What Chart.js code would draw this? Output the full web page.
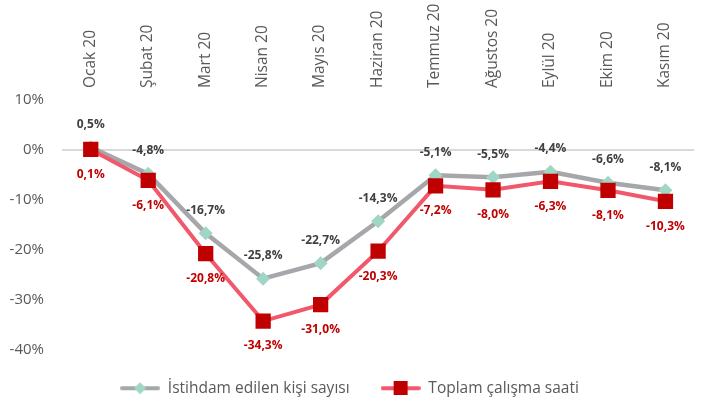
<!DOCTYPE html>
<html>
<head>
<meta charset="utf-8">
<script src="https://cdn.jsdelivr.net/npm/chart.js@4"></script>
<style>
  html, body { margin: 0; padding: 0; background: #fff; }
  #wrap { width: 705px; height: 401px; }
</style>
</head>
<body>
<div id="wrap"><canvas id="c"></canvas></div>
<script>
const months = ['Ocak 20', 'Şubat 20', 'Mart 20', 'Nisan 20', 'Mayıs 20', 'Haziran 20',
  'Temmuz 20', 'Ağustos 20', 'Eylül 20', 'Ekim 20', 'Kasım 20']
const istihdam = [0.5, -4.8, -16.7, -25.8, -22.7, -14.3, -5.1, -5.5, -4.4, -6.6, -8.1]
const calismaSaati = [0.1, -6.1, -20.8, -34.3, -31.0, -20.3, -7.2, -8.0, -6.3, -8.1, -10.3]
const yTicks = [10, 0, -10, -20, -30, -40]

const FONT = '"Open Sans", "Noto Sans", sans-serif'

// legend icon: short line with the marker in the middle
function legendIcon(lineColor, draw) {
  const c = document.createElement('canvas')
  c.width = 40
  c.height = 14
  const g = c.getContext('2d')
  g.strokeStyle = lineColor
  g.lineWidth = 4
  g.lineCap = 'round'
  g.beginPath()
  g.moveTo(2, 7)
  g.lineTo(38, 7)
  g.stroke()
  draw(g)
  return c
}

const grayIcon = legendIcon('#A6A7AA', g => {
  g.fillStyle = '#9FD6C5'
  g.beginPath()
  g.moveTo(20, 1); g.lineTo(26, 7); g.lineTo(20, 13); g.lineTo(14, 7)
  g.closePath()
  g.fill()
})
const redIcon = legendIcon('#F2586C', g => {
  g.fillStyle = '#C00000'
  g.fillRect(13, 0, 14, 14)
})

// value labels above (gray) / below (red) the points
const valueLabels = {
  id: 'valueLabels',
  afterDatasetsDraw(chart) {
    const ctx = chart.ctx
    ctx.save()
    ctx.font = 'bold 12px ' + FONT
    ctx.textAlign = 'center'
    ctx.textBaseline = 'middle'
    chart.data.datasets.forEach((ds, i) => {
      const meta = chart.getDatasetMeta(i)
      meta.data.forEach((pt, j) => {
        const txt = ds.data[j].toFixed(1).replace('.', ',') + '%'
        ctx.fillStyle = ds.labelColor
        ctx.fillText(txt, pt.x, pt.y + ds.labelOffset)
      })
    })
    ctx.restore()
  }
}

// legend sits a bit lower than Chart.js puts it
const legendNudge = {
  id: 'legendNudge',
  beforeLayout(chart) {
    const lg = chart.legend
    if (!lg || lg._nudged) return
    const fit = lg.fit
    lg.fit = function () { fit.call(this); this.height -= 5 }
    lg._nudged = true
  }
}

new Chart(document.getElementById('c'), {
  type: 'line',
  data: {
    labels: months,
    datasets: [
      {
        label: 'İstihdam edilen kişi sayısı',
        data: istihdam,
        order: 1,
        borderColor: '#A6A7AA',
        borderWidth: 4.5,
        pointStyle: 'rectRot',
        pointRadius: 7,
        pointHoverRadius: 7,
        pointBackgroundColor: '#9FD6C5',
        pointBorderWidth: 0,
        tension: 0,
        labelColor: '#404040',
        labelOffset: -23,
        legendIcon: grayIcon
      },
      {
        label: 'Toplam çalışma saati',
        data: calismaSaati,
        order: 0,
        borderColor: '#F2586C',
        borderWidth: 4,
        pointStyle: 'rect',
        pointRadius: 10.8,
        pointHoverRadius: 10.8,
        pointBackgroundColor: '#C00000',
        pointBorderWidth: 0,
        tension: 0,
        labelColor: '#C00000',
        labelOffset: 25,
        legendIcon: redIcon
      }
    ]
  },
  options: {
    responsive: true,
    maintainAspectRatio: false,
    animation: false,
    layout: { padding: { top: 0, right: 6, bottom: 0, left: 0 } },
    scales: {
      x: {
        position: 'top',
        offset: true,
        grid: { display: false, drawTicks: false },
        border: { display: false },
        ticks: {
          maxRotation: 90,
          minRotation: 90,
          padding: 12,
          labelOffset: 18,
          color: '#595959',
          font: { family: FONT, size: 15.5 }
        },
        afterFit: s => { s.height = 100 }
      },
      y: {
        min: -40,
        max: 10,
        afterBuildTicks: s => { s.ticks = yTicks.map(v => ({ value: v })) },
        grid: {
          drawTicks: false,
          color: c => c.tick && c.tick.value === 0 ? '#D9D9D9' : 'transparent',
          lineWidth: 2
        },
        border: { display: false },
        ticks: {
          padding: 18,
          color: '#595959',
          font: { family: FONT, size: 15 },
          callback: v => v + '%'
        },
        afterFit: s => { s.width = 62 }
      }
    },
    plugins: {
      legend: {
        position: 'bottom',
        labels: {
          usePointStyle: true,
          pointStyleWidth: 40,
          padding: 31,
          color: '#595959',
          font: { family: FONT, size: 15.5 },
          sort: (a, b) => a.datasetIndex - b.datasetIndex,
          generateLabels: chart => chart.data.datasets.map((ds, i) => ({
            text: ds.label,
            pointStyle: ds.legendIcon,
            fillStyle: ds.borderColor,
            strokeStyle: ds.borderColor,
            lineWidth: 0,
            fontColor: '#595959',
            datasetIndex: i,
            hidden: false
          }))
        }
      },
      tooltip: { enabled: false }
    }
  },
  plugins: [valueLabels, legendNudge]
})
</script>
</body>
</html>
